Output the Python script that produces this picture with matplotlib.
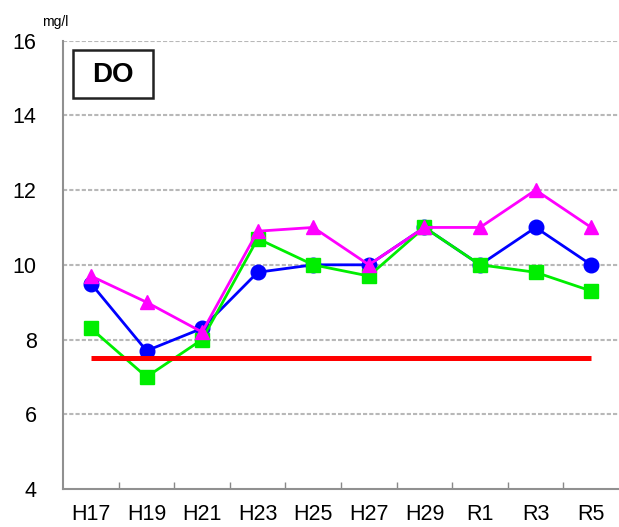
import numpy as np
import matplotlib.pyplot as plt
from matplotlib.patches import Rectangle

plt.rcParams['font.family'] = ['Liberation Sans', 'DejaVu Sans']

years = ["H17", "H19", "H21", "H23", "H25", "H27", "H29", "R1", "R3", "R5"]
do_blue = [9.5, 7.7, 8.3, 9.8, 10.0, 10.0, 11.0, 10.0, 11.0, 10.0]
do_green = [8.3, 7.0, 8.0, 10.7, 10.0, 9.7, 11.0, 10.0, 9.8, 9.3]
do_magenta = [9.7, 9.0, 8.2, 10.9, 11.0, 10.0, 11.0, 11.0, 12.0, 11.0]
standard = 7.5

x = np.arange(len(years))

fig = plt.figure(figsize=(6.19, 5.27), dpi=100)
ax = fig.add_axes([0.102, 0.072, 0.898, 0.851])

ax.plot(x, do_blue, color='#0000ff', linewidth=2, marker='o', markersize=10.5, zorder=3)
ax.plot(x, do_green, color='#00ee00', linewidth=2, marker='s', markersize=10, zorder=4)
ax.plot(x, do_magenta, color='#ff00ff', linewidth=2, marker='^', markersize=10.5, zorder=5)
ax.plot([x[0], x[-1]], [standard, standard], color='#ff0000', linewidth=3.6, zorder=6,
        solid_capstyle='butt')

ax.set_xlim(-0.5, len(years) - 0.5)
ax.set_ylim(4, 16)
ax.set_yticks(range(4, 17, 2))
ax.set_xticks(x)
ax.set_xticklabels(years, fontsize=15.5)
ax.set_xticks(np.arange(0.5, len(years) - 1, 1), minor=True)
ax.tick_params(axis='x', which='major', length=0, pad=11)
ax.tick_params(axis='x', which='minor', direction='in', length=5, color='#888888', width=1)
ax.tick_params(axis='y', length=0, labelsize=15.5, pad=19)

for y in range(6, 17, 2):
    ax.axhline(y, color='#b8b8b8', linewidth=1.5, linestyle=(0, (2, 1)), zorder=1)

for side in ['top', 'right']:
    ax.spines[side].set_visible(False)
ax.spines['left'].set_color('#909090')
ax.spines['bottom'].set_color('#909090')
ax.spines['left'].set_linewidth(1.5)
ax.spines['bottom'].set_linewidth(1.5)

fig.text(42 / 619, 1 - 22 / 527, "mg/l", fontsize=10, va='center', ha='left')

# label box in figure pixels
fig.patches.append(Rectangle((73 / 619, 1 - 98 / 527), 80 / 619, 48 / 527,
                             transform=fig.transFigure, facecolor='white',
                             edgecolor='#222222', linewidth=1.8, zorder=10))
fig.text(113 / 619, 1 - 75 / 527, "DO", fontsize=20, fontweight='bold',
         ha='center', va='center', zorder=11)

fig.savefig("out.png", dpi=100)
